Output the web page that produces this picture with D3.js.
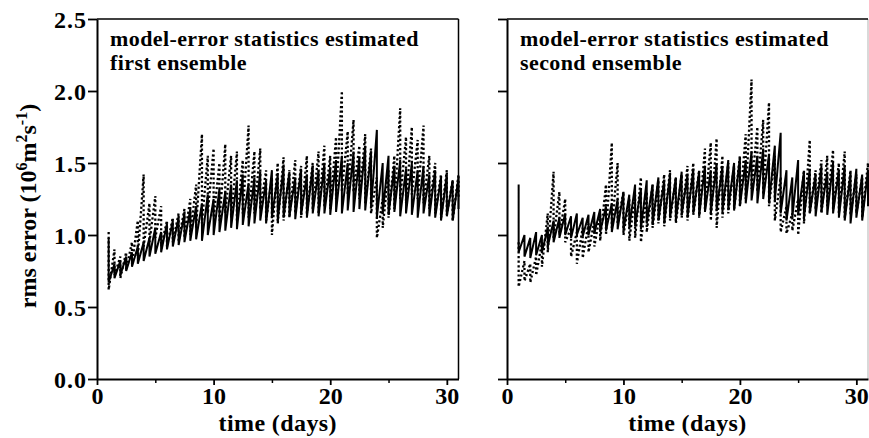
<!DOCTYPE html>
<html><head><meta charset="utf-8">
<script src="https://cdn.jsdelivr.net/npm/d3@7"></script>
<style>
body{margin:0;background:#fff;}
text{font-family:"Liberation Serif","Times New Roman",serif;font-weight:bold;fill:#000;}
</style></head>
<body><svg id="c" width="869" height="438"></svg>
<script>
const days = [1,1.5,2,2.5,3,3.5,4,4.5,5,5.5,6,6.5,7,7.5,8,8.5,9,9.5,10,10.5,11,11.5,12,12.5,13,13.5,14,14.5,15,15.5,16,16.5,17,17.5,18,18.5,19,19.5,20,20.5,21,21.5,22,22.5,23,23.5,24,24.5,25,25.5,26,26.5,27,27.5,28,28.5,29,29.5,30,30.5,31];

// first ensemble, solid
const s1Peak = [0.98,0.80,0.82,0.85,0.88,0.92,0.95,0.98,1.05,1.02,1.08,1.10,1.12,1.15,1.18,1.20,1.22,1.28,1.25,1.32,1.30,1.35,1.38,1.42,1.36,1.40,1.44,1.38,1.45,1.42,1.48,1.44,1.40,1.46,1.42,1.48,1.45,1.50,1.47,1.52,1.55,1.50,1.58,1.54,1.62,1.58,1.73,1.50,1.55,1.48,1.52,1.46,1.50,1.45,1.48,1.42,1.45,1.40,1.42,1.38,1.40];
const s1Trough = [0.67,0.70,0.72,0.75,0.78,0.80,0.82,0.85,0.87,0.88,0.90,0.92,0.93,0.95,0.96,0.97,0.96,1.00,1.00,1.02,1.03,1.05,1.04,1.07,1.06,1.08,1.10,1.08,1.12,1.10,1.12,1.13,1.11,1.14,1.12,1.15,1.13,1.15,1.14,1.16,1.15,1.17,1.16,1.18,1.17,1.19,1.12,1.15,1.14,1.16,1.13,1.15,1.14,1.12,1.15,1.13,1.12,1.10,1.13,1.10,1.18];
// first ensemble, dotted
const d1Peak = [1.02,0.90,0.85,0.88,0.95,1.10,1.42,1.22,1.27,1.20,1.10,1.12,1.15,1.18,1.25,1.35,1.70,1.55,1.60,1.50,1.63,1.55,1.58,1.52,1.76,1.58,1.60,1.45,1.40,1.50,1.54,1.45,1.52,1.48,1.55,1.50,1.58,1.62,1.55,1.68,2.00,1.72,1.80,1.62,1.70,1.60,1.40,1.25,1.45,1.55,1.88,1.68,1.75,1.66,1.76,1.55,1.50,1.42,1.45,1.38,1.42];
const d1Trough = [0.62,0.72,0.70,0.76,0.80,0.85,0.92,0.95,0.98,0.92,0.92,0.95,0.96,0.98,1.00,1.05,1.08,1.15,1.12,1.10,1.15,1.12,1.10,1.15,1.12,1.15,1.18,1.10,1.00,1.08,1.10,1.12,1.15,1.12,1.15,1.18,1.15,1.20,1.18,1.25,1.30,1.28,1.30,1.25,1.22,1.15,0.98,1.05,1.12,1.18,1.25,1.22,1.28,1.25,1.22,1.18,1.15,1.12,1.14,1.10,1.25];
// second ensemble, solid
const s2Peak = [1.35,1.00,0.98,1.02,1.00,1.05,1.10,1.12,1.15,1.13,1.15,1.12,1.14,1.16,1.18,1.20,1.22,1.25,1.30,1.28,1.35,1.32,1.38,1.35,1.40,1.38,1.42,1.40,1.44,1.42,1.46,1.44,1.48,1.45,1.50,1.48,1.52,1.50,1.54,1.52,1.58,1.55,1.60,1.56,1.62,1.71,1.45,1.40,1.52,1.44,1.46,1.42,1.48,1.44,1.50,1.45,1.48,1.43,1.46,1.42,1.45];
const s2Trough = [0.88,0.85,0.84,0.86,0.88,0.92,0.95,0.98,1.00,0.98,1.00,0.99,1.00,1.01,1.02,1.03,1.02,1.04,1.03,1.05,1.06,1.04,1.08,1.07,1.10,1.08,1.12,1.10,1.14,1.12,1.15,1.13,1.16,1.15,1.17,1.16,1.18,1.17,1.20,1.22,1.24,1.22,1.25,1.22,1.24,1.15,1.10,1.12,1.14,1.12,1.15,1.13,1.16,1.14,1.15,1.12,1.10,1.08,1.12,1.10,1.20];
// second ensemble, dotted
const d2Peak = [0.95,0.82,0.80,0.85,0.95,1.15,1.44,1.30,1.25,1.05,1.02,1.05,1.08,1.10,1.15,1.35,1.64,1.50,1.30,1.25,1.28,1.40,1.30,1.35,1.38,1.42,1.45,1.40,1.42,1.48,1.50,1.45,1.60,1.64,1.67,1.55,1.50,1.48,1.55,1.70,2.08,1.75,1.80,1.92,1.55,1.40,1.20,1.15,1.25,1.45,1.66,1.45,1.52,1.55,1.59,1.50,1.58,1.45,1.42,1.40,1.50];
const d2Trough = [0.64,0.68,0.67,0.72,0.78,0.88,0.98,1.00,0.95,0.85,0.80,0.84,0.88,0.92,0.96,1.00,1.05,1.08,1.00,0.96,0.98,0.95,1.02,1.05,1.08,1.06,1.10,1.08,1.12,1.10,1.14,1.12,1.18,1.10,1.05,1.12,1.15,1.18,1.20,1.25,1.32,1.30,1.28,1.20,1.10,1.02,1.01,1.03,1.00,1.08,1.15,1.18,1.15,1.20,1.18,1.15,1.12,1.14,1.15,1.12,1.30];

const yTicks = [0.0,0.5,1.0,1.5,2.0,2.5];
const xTicks = [0,10,20,30];
const xMinor = [5,15,25];
const panelTexts = [["model-error statistics estimated","first ensemble"],["model-error statistics estimated","second ensemble"]];

const svg = d3.select("#c");
const plotTop = 19, plotBottom = 379;
const panels = [
  {x0:97, x1:458.5, solid:[s1Peak,s1Trough], dotted:[d1Peak,d1Trough], txt:panelTexts[0], labels:true},
  {x0:507, x1:868, solid:[s2Peak,s2Trough], dotted:[d2Peak,d2Trough], txt:panelTexts[1], labels:false}
];

function sawPoints(peak, trough){
  const pts = [[days[0],peak[0]],[days[0],trough[0]]];
  for(let k=1;k<days.length;k++){
    pts.push([days[k],peak[k]]);
    pts.push([days[k],trough[k]]);
  }
  return pts;
}

panels.forEach(p=>{
  const x = d3.scaleLinear().domain([0,31]).range([p.x0,p.x1]);
  const y = d3.scaleLinear().domain([0,2.5]).range([plotBottom,plotTop]);
  const g = svg.append("g");
  const line = d3.line().x(d=>x(d[0])).y(d=>y(d[1]));

  g.append("path").attr("d",line(sawPoints(p.dotted[0],p.dotted[1])))
    .attr("fill","none").attr("stroke","#000").attr("stroke-width",2.3)
    .attr("stroke-dasharray","2.2,2.4");
  g.append("path").attr("d",line(sawPoints(p.solid[0],p.solid[1])))
    .attr("fill","none").attr("stroke","#000").attr("stroke-width",2)
    .attr("stroke-linejoin","miter");

  g.append("line").attr("x1",p.x0).attr("x2",p.x1).attr("y1",plotTop).attr("y2",plotTop)
    .attr("stroke","#000").attr("stroke-width",1.5);
  g.append("line").attr("x1",p.x1).attr("x2",p.x1).attr("y1",plotTop).attr("y2",plotBottom)
    .attr("stroke","#000").attr("stroke-width",p.labels?1.5:0.6).attr("stroke-opacity",p.labels?1:0.5);

  const ya = d3.axisLeft(y).tickValues(yTicks).tickSize(9).tickSizeOuter(0)
    .tickFormat(p.labels ? d3.format(".1f") : "");
  const yg = g.append("g").attr("transform",`translate(${p.x0},0)`).call(ya);
  yg.select(".domain").attr("stroke-width",2);
  yg.selectAll(".tick line").attr("stroke-width",1.8);
  yg.selectAll(".tick text").attr("font-size",24).attr("x",-10).attr("dy","0.34em")
    .style("font-family","'Liberation Serif',serif").style("font-weight","bold").attr("letter-spacing",1);

  const xa = d3.axisBottom(x).tickValues(xTicks).tickSize(6).tickSizeOuter(0).tickFormat(d3.format("d"));
  const xg = g.append("g").attr("transform",`translate(0,${plotBottom})`).call(xa);
  xg.select(".domain").attr("stroke-width",2);
  xg.selectAll(".tick line").attr("stroke-width",1.8);
  xg.selectAll(".tick text").attr("font-size",24).attr("y",8).attr("dy","0.71em")
    .style("font-family","'Liberation Serif',serif").style("font-weight","bold");
  const xm = d3.axisBottom(x).tickValues(xMinor).tickSize(4).tickFormat("");
  const xmg = g.append("g").attr("transform",`translate(0,${plotBottom})`).call(xm);
  xmg.select(".domain").remove();
  xmg.selectAll(".tick line").attr("stroke-width",1.5);

  g.append("text").attr("x",(p.x0+p.x1)/2).attr("y",431).attr("text-anchor","middle")
    .attr("font-size",24).attr("letter-spacing",0.4).text("time (days)");

  g.append("text").attr("x",p.x0+13).attr("y",46).attr("font-size",22).attr("letter-spacing",0.4).text(p.txt[0]);
  g.append("text").attr("x",p.x0+13).attr("y",70).attr("font-size",22).attr("letter-spacing",0.4).text(p.txt[1]);
});

const yl = svg.append("text").attr("transform","translate(36,206) rotate(-90)")
  .attr("text-anchor","middle").attr("font-size",24);
yl.append("tspan").text("rms error (10");
yl.append("tspan").attr("font-size",16).attr("dy",-9).text("6");
yl.append("tspan").attr("dy",9).text("m");
yl.append("tspan").attr("font-size",16).attr("dy",-9).text("2");
yl.append("tspan").attr("dy",9).text("s");
yl.append("tspan").attr("font-size",16).attr("dy",-9).text("-1");
yl.append("tspan").attr("dy",9).text(")");
</script></body></html>
